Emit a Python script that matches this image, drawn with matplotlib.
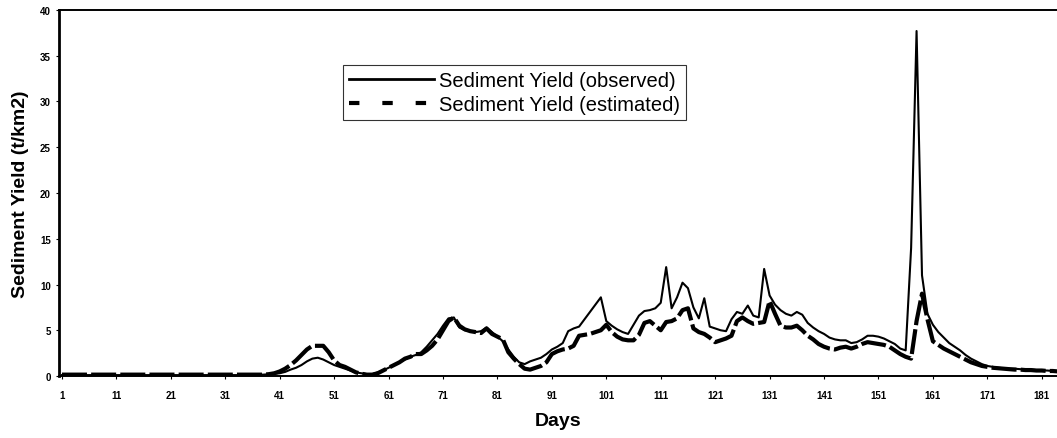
import matplotlib
matplotlib.use("Agg")
import matplotlib.pyplot as plt
import numpy as np
from matplotlib.lines import Line2D

plt.rcParams['font.family'] = ['Liberation Sans', 'DejaVu Sans']

# daily sediment yield (t/km2), days 1..184
observed_early = [0.1] * 35 + [0.15, 0.15, 0.15]            # days 1-38
observed_rest = [
    0.2, 0.25, 0.3, 0.45, 0.7, 0.9, 1.2, 1.6, 1.9, 2.0,        # 39-48
    1.8, 1.5, 1.2, 1.0, 0.8, 0.6, 0.4, 0.3, 0.2, 0.2,          # 49-58
    0.4, 0.6, 0.9, 1.2, 1.5, 1.8, 2.1, 2.3, 2.6, 3.2,          # 59-68
    3.9, 4.6, 5.5, 6.3, 6.4, 5.3, 5.0, 4.9, 4.8, 4.9,          # 69-78
    5.3, 4.8, 4.3, 3.8, 2.9, 2.1, 1.5, 1.3, 1.6, 1.8,          # 79-88
    2.0, 2.4, 2.9, 3.2, 3.6, 4.9, 5.2, 5.4, 6.2, 7.0,          # 89-98
    7.8, 8.6, 6.0, 5.5, 5.1, 4.8, 4.6, 5.6, 6.6, 7.1,          # 99-108
    7.2, 7.4, 8.0, 11.9, 7.4, 8.6, 10.2, 9.6, 7.5, 6.3,        # 109-118
    8.5, 5.4, 5.2, 5.0, 4.9, 6.2, 7.0, 6.8, 7.7, 6.6,          # 119-128
    6.4, 11.7, 8.8, 7.8, 7.2, 6.8, 6.6, 7.0, 6.7, 5.8,         # 129-138
    5.3, 4.9, 4.6, 4.2, 4.0, 3.9, 3.9, 3.6, 3.7, 4.0,          # 139-148
    4.4, 4.4, 4.3, 4.1, 3.8, 3.5, 3.0, 2.8, 14.0, 37.7,        # 149-158
    11.0, 6.8, 5.6, 4.8, 4.2, 3.6, 3.2, 2.8, 2.3, 1.9,         # 159-168
    1.6, 1.3, 1.1, 1.0, 0.9, 0.85, 0.8, 0.8, 0.75, 0.7,        # 169-178
    0.7, 0.65, 0.6, 0.6, 0.55, 0.5,                            # 179-184
]
observed = observed_early + observed_rest

estimated_early = [0.15] * 38                                  # days 1-38
estimated_rest = [
    0.2, 0.3, 0.5, 0.8, 1.2, 1.7, 2.3, 2.9, 3.3, 3.3,          # 39-48
    3.3, 2.6, 1.7, 1.2, 1.0, 0.7, 0.4, 0.25, 0.15, 0.15,       # 49-58
    0.3, 0.6, 0.9, 1.2, 1.5, 1.9, 2.1, 2.4, 2.4, 2.8,          # 59-68
    3.3, 4.0, 5.0, 6.0, 6.4, 5.5, 5.1, 4.9, 4.8, 4.7,          # 69-78
    5.2, 4.6, 4.3, 4.0, 2.6, 1.9, 1.3, 0.8, 0.7, 0.9,          # 79-88
    1.1, 1.5, 2.4, 2.7, 2.9, 3.0, 3.3, 4.4, 4.5, 4.6,          # 89-98
    4.8, 5.0, 5.6, 4.8, 4.3, 4.0, 3.9, 3.9, 4.5, 5.8,          # 99-108
    6.0, 5.5, 5.0, 5.9, 6.0, 6.3, 7.2, 7.4, 5.2, 4.8,          # 109-118
    4.6, 4.2, 3.7, 3.9, 4.1, 4.4, 6.0, 6.4, 6.0, 5.7,          # 119-128
    5.8, 5.9, 8.2, 6.8, 5.5, 5.3, 5.3, 5.5, 5.0, 4.4,          # 129-138
    4.0, 3.5, 3.2, 3.0, 2.9, 3.1, 3.2, 3.0, 3.2, 3.5,          # 139-148
    3.7, 3.6, 3.5, 3.4, 3.2, 2.8, 2.4, 2.1, 1.9, 6.0,          # 149-158
    9.0, 6.2, 3.8, 3.4, 3.0, 2.7, 2.4, 2.1, 1.8, 1.5,          # 159-168
    1.3, 1.1, 1.0, 0.9, 0.85, 0.8, 0.75, 0.7, 0.7, 0.65,       # 169-178
    0.65, 0.6, 0.6, 0.55, 0.55, 0.5,                           # 179-184
]
estimated = estimated_early + estimated_rest

days = np.arange(1, len(observed) + 1)
xticks = np.arange(1, 182, 10)
yticks = np.arange(0, 41, 5)

fig = plt.figure(figsize=(10.57, 4.39), dpi=100)
ax = fig.add_axes([0.0558, 0.1412, 0.9442, 0.8338])

ax.plot(days, observed, color='black', lw=1.5, solid_joinstyle='round')
ax.plot(days, estimated, color='black', lw=3.0, linestyle=(0, (6, 1)))

ax.set_xlim(0.45, 183.8)
ax.set_ylim(0, 40)
ax.set_xticks(xticks)
ax.set_yticks(yticks)
ax.tick_params(axis='both', labelsize=7, length=2, width=0.8, color='black')
ax.tick_params(axis='x', pad=8)
ax.tick_params(axis='y', pad=4)
for lab in ax.get_xticklabels() + ax.get_yticklabels():
    lab.set_fontweight('bold')

ax.spines['left'].set_linewidth(2.0)
ax.spines['bottom'].set_linewidth(1.4)
ax.spines['top'].set_linewidth(1.4)
ax.spines['right'].set_visible(False)

ax.set_xlabel('Days', fontsize=14, fontweight='bold', labelpad=9)
ax.set_ylabel('Sediment Yield (t/km2)', fontsize=14, fontweight='bold', labelpad=8)

handles = [
    Line2D([], [], color='black', lw=2.0),
    Line2D([], [], color='black', lw=3.0, linestyle=(0, (2.5, 5.5))),
]
leg = ax.legend(handles, ['Sediment Yield (observed)', 'Sediment Yield (estimated)'],
                loc='upper left', bbox_to_anchor=(0.2846, 0.85), borderaxespad=0,
                fontsize=14.5, handlelength=4.2, handletextpad=0.25,
                borderpad=0.3, labelspacing=0.25, frameon=True, fancybox=False)
leg.get_frame().set_edgecolor('black')
leg.get_frame().set_linewidth(0.8)

plt.savefig('out.png', dpi=100)
